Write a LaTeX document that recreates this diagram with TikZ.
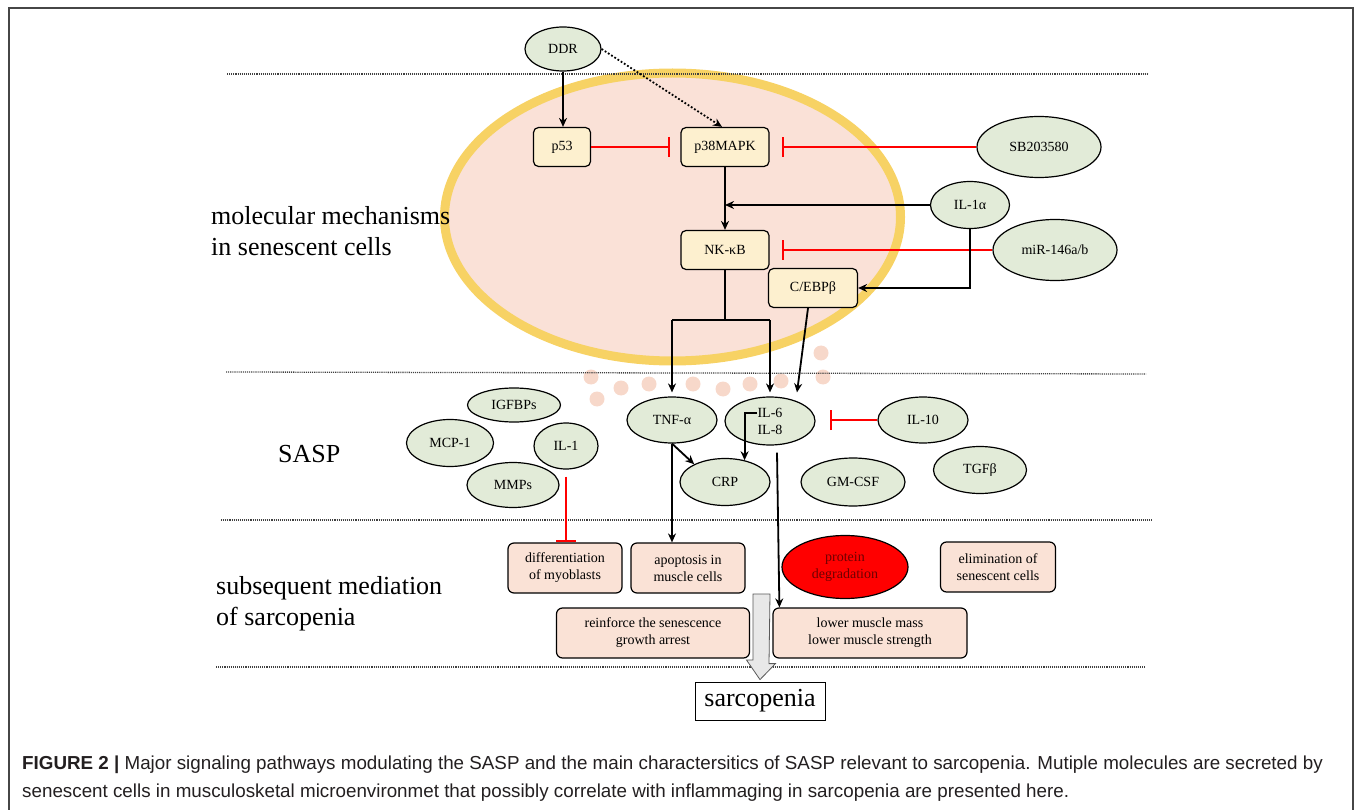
\documentclass[tikz,border=0pt]{standalone}
\usepackage{fontspec}
\setmainfont{Liberation Serif}
\newfontfamily\capfont{Liberation Sans}
\usetikzlibrary{shapes.geometric,arrows.meta}

\definecolor{molgreen}{RGB}{226,235,216}
\definecolor{kinyellow}{RGB}{253,240,207}
\definecolor{outpink}{RGB}{250,226,214}
\definecolor{cellpink}{RGB}{250,225,215}
\definecolor{cellgold}{RGB}{247,210,100}
\definecolor{dotpink}{RGB}{247,216,202}
\definecolor{capgray}{RGB}{35,31,32}
\definecolor{degtext}{RGB}{110,0,0}

\tikzset{
  mol/.style={ellipse,draw,fill=molgreen,line width=1.2pt,inner sep=0pt,
    font=\fontsize{14}{16}\selectfont},
  kin/.style={rectangle,rounded corners=5pt,draw,fill=kinyellow,line width=1.2pt,
    inner sep=0pt,font=\fontsize{14}{16}\selectfont},
  outcome/.style={rectangle,rounded corners=6pt,draw,fill=outpink,line width=1.2pt,
    inner sep=0pt,align=center,minimum height=50pt,font=\fontsize{14}{17}\selectfont},
  act/.style={-{Stealth[length=9pt,width=8pt]},line width=1.8pt},
  inhib/.style={red,line width=2pt,-{Bar[width=20pt,line width=2pt]}},
  sep/.style={line width=1.3pt,dash pattern=on 1.1pt off 1pt,gray!50!black},
  region/.style={inner sep=0pt,align=left,font=\fontsize{26}{31}\selectfont}
}

\begin{document}
\begin{tikzpicture}[x=1pt,y=-1pt,>=stealth]
\useasboundingbox (0,0) rectangle (1355,810);
% frame
\draw[gray!55!black,line width=1.5pt] (9,830) -- (9,8) -- (1353,8) -- (1353,830);

% the cell
\draw[cellgold,fill=cellpink,line width=9pt] (672.5,217) ellipse (228 and 144);
\foreach \x/\y in {591/377,597/399,621/388,649/384,693/384,723/389,750/384,781/381,821/353,823/377}
  \fill[dotpink] (\x,\y) circle (7.5pt);

% separators
\draw[sep] (227,74) -- (1148,74);
\draw[sep] (226,372) -- (1146,374);
\draw[sep] (221,520) -- (1153,520);
\draw[sep] (216,667) -- (1145,667);

% regions
\node[region,anchor=north west] (molmech) at (211,206) {molecular mechanisms\\in senescent cells};
\node[region,anchor=base west] (sasp) at (278,462) {SASP};
\node[region,anchor=north west] (subseq) at (216,576) {subsequent mediation\\of sarcopenia};

% molecular mechanisms
\node[mol,minimum width=76pt,minimum height=44pt] (ddr) at (563,49) {DDR};
\node[kin,minimum width=57pt,minimum height=39pt] (p53) at (562,147) {p53};
\node[kin,minimum width=88pt,minimum height=39pt] (p38) at (725,147) {p38MAPK};
\node[mol,minimum width=124pt,minimum height=61pt] (sb) at (1039,147) {SB203580};
\node[mol,minimum width=79pt,minimum height=47pt] (il1a) at (970,205) {IL-1α};
\node[kin,minimum width=88pt,minimum height=39pt] (nfkb) at (725,250) {NK-κB};
\node[mol,minimum width=124pt,minimum height=61pt] (mir) at (1055,250) {miR-146a/b};
\node[kin,minimum width=89pt,minimum height=39pt] (cebp) at (813,288) {C/EBPβ};

\draw[act] (ddr.south) -- (ddr.south |- p53.north);
\draw[act,dotted] (ddr.east) -- ([xshift=-3pt]p38.north);
\draw[inhib] (p53.east) -- ([xshift=-10pt]p38.west);
\draw[inhib] (sb.west) -- ([xshift=12pt]p38.east);
\draw[act] (p38.south) -- (nfkb.north);
\draw[act] (il1a.west) -- (il1a.west -| p38.south);
\draw[inhib] (mir.west) -- ([xshift=12pt]nfkb.east);
\draw[act] (il1a.south) |- (cebp.east);

% SASP
\node[mol,minimum width=93pt,minimum height=34pt] (igfbp) at (514,405) {IGFBPs};
\node[mol,minimum width=87pt,minimum height=47pt] (mcp) at (450,443) {MCP-1};
\node[mol,minimum width=64pt,minimum height=46pt] (il1) at (566,446) {IL-1};
\node[mol,minimum width=92pt,minimum height=45pt] (mmp) at (513,485) {MMPs};
\node[mol,minimum width=90pt,minimum height=46pt] (tnfa) at (672,420) {TNF-α};
\node[mol,minimum width=90pt,minimum height=48pt,align=center,
  font=\fontsize{14}{17}\selectfont] (il68) at (770,421) {IL-6\\IL-8};
\node[mol,minimum width=90pt,minimum height=47pt] (crp) at (725,482) {CRP};
\node[mol,minimum width=104pt,minimum height=48pt] (gmcsf) at (853,482) {GM-CSF};
\node[mol,minimum width=90pt,minimum height=46pt] (il10) at (923,420) {IL-10};
\node[mol,minimum width=93pt,minimum height=47pt] (tgfb) at (980,470) {TGFβ};

\draw[line width=1.8pt] (nfkb.south) -- ++(0,50) coordinate (split);
\draw[line width=1.8pt] (split -| tnfa) -- (split -| il68);
\draw[act] (split -| tnfa) -- ([yshift=4pt]tnfa.north);
\draw[act] (split -| il68) -- ([yshift=4pt]il68.north);
\draw[act] ([xshift=-5pt]cebp.south) -- ([xshift=27pt,yshift=4pt]il68.north);
\draw[act] (tnfa.south) -- (crp.150);
\draw[act] ([xshift=-13pt,yshift=8pt]il68.center) -| (crp.48);
\draw[inhib] (il10.west) -- ([xshift=14pt]il68.east |- il10.west);

% subsequent mediation
\node[outcome,minimum width=114pt] (diff) at (565,568) {differentiation\\of myoblasts};
\node[outcome,minimum width=114pt] (apop) at (688,568) {apoptosis in\\muscle cells};
\node[ellipse,draw,fill=red,line width=1.2pt,inner sep=0pt,minimum width=126pt,minimum height=63pt,
  align=center,text=degtext,font=\fontsize{14}{17}\selectfont] (degr) at (845,567) {protein\\degradation};
\node[outcome,minimum width=115pt] (elim) at (998,567) {elimination of\\senescent cells};
\node[outcome,minimum width=193pt] (reinf) at (653,633) {reinforce the senescence\\growth arrest};
\node[outcome,minimum width=194pt] (lower) at (870,633) {lower muscle mass\\lower muscle strength};
\node[draw,line width=0.8pt,minimum width=130pt,minimum height=38pt,inner sep=0pt,
  font=\fontsize{26}{30}\selectfont] (sarc) at (760,701) {sarcopenia};

\draw[inhib] ([yshift=-7pt]il1.south) -- (il1.south |- diff.north);
\draw[act] (tnfa.south) -- (tnfa.south |- apop.north);
\draw[act] ([xshift=7pt,yshift=-7pt]il68.south) -- ([xshift=7pt]lower.north west);

% big arrow
\coordinate (gtop) at (761.5,594);
\draw[gray!70!black,fill=gray!18,line width=0.8pt] ([xshift=-8.5pt]gtop) -- ++(0,66) -- ++(-6.5,0)
  -- ([yshift=2pt]sarc.north) -- ++(15.5,-16) -- ++(-6.5,0) -- ([xshift=8.5pt]gtop) -- cycle;

% caption
\node[anchor=base west,inner sep=0pt,align=left,text=capgray,
  font=\capfont\fontsize{18.8}{28}\selectfont] (caption) at (22,797)
  {\textbf{FIGURE 2 |} Major signaling pathways modulating the SASP and the main charactersitics of SASP relevant to sarcopenia. Mutiple molecules are secreted by\\senescent cells in musculosketal microenvironmet that possibly correlate with inflammaging in sarcopenia are presented here.};
\end{tikzpicture}
\end{document}
